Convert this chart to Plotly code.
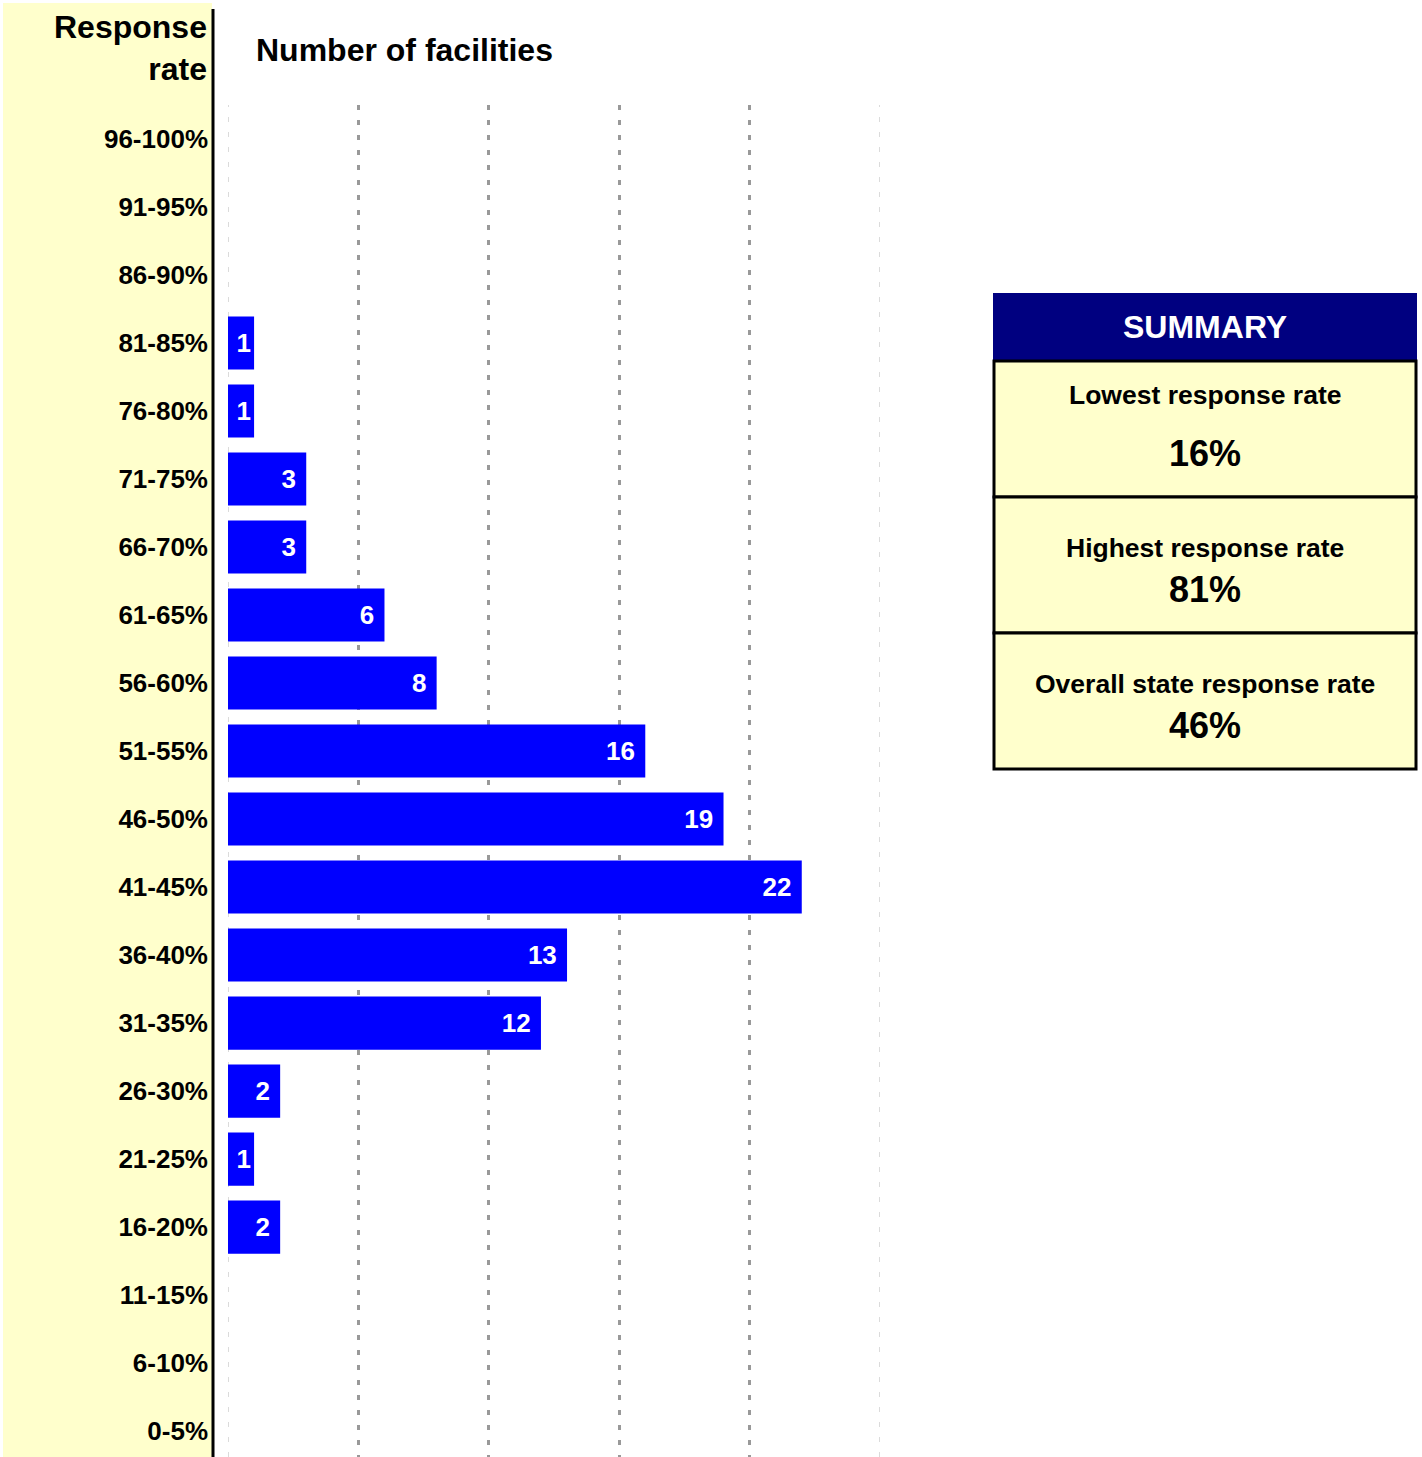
import plotly.graph_objects as go

# ---- data ----
categories = ["0-5%", "6-10%", "11-15%", "16-20%", "21-25%", "26-30%", "31-35%",
              "36-40%", "41-45%", "46-50%", "51-55%", "56-60%", "61-65%", "66-70%",
              "71-75%", "76-80%", "81-85%", "86-90%", "91-95%", "96-100%"]
facilities = [0, 0, 0, 2, 1, 2, 12, 13, 22, 19, 16, 8, 6, 3, 3, 1, 1, 0, 0, 0]
x_ticks = [5, 10, 15, 20]
x_edge_ticks = [0, 25]
summary_labels = ["Lowest response rate", "Highest response rate", "Overall state response rate"]
summary_values = ["16%", "81%", "46%"]

FONT = "Liberation Sans, Arial, sans-serif"
W, H = 1422, 1457
L, R, T, B = 228, 880, 105, 1457


def px(x):
    return (x - L) / (R - L)


def py(y):
    return (B - y) / (B - T)


def bar_label(v):
    if not v:
        return ""
    # a trailing no-break space gives the wider inner padding of the original
    return str(v) + ("\u00a0" if v >= 2 else "")


fig = go.Figure()
fig.add_trace(go.Bar(
    y=categories, x=facilities, orientation="h",
    marker=dict(color="#0000FF", line=dict(width=0)),
    text=[bar_label(v) for v in facilities],
    textposition="inside", insidetextanchor="end",
    textfont=dict(family=FONT, size=26, color="white", weight="bold"),
    hoverinfo="skip",
))

fig.update_layout(
    width=W, height=H,
    margin=dict(l=L, r=W - R, t=T, b=H - B, pad=0),
    paper_bgcolor="white", plot_bgcolor="white",
    showlegend=False, bargap=0.22,
    uniformtext=dict(minsize=26, mode="show"),
    font=dict(family=FONT, color="black"),
)
fig.update_xaxes(
    range=[0, 25], tickvals=x_ticks, showticklabels=False, ticks="",
    showgrid=True, gridcolor="#999999", griddash="5px,10px", gridwidth=3,
    zeroline=False, showline=False,
)
fig.update_yaxes(
    type="category", categoryorder="array", categoryarray=categories,
    range=[-0.38, 19.5], showgrid=False, zeroline=False, showline=False,
    ticks="", ticklabelstandoff=19,
    tickfont=dict(family=FONT, size=26, color="black", weight="bold"),
)

# light edge gridlines at 0 and 25
for v in x_edge_ticks:
    fig.add_shape(type="line", xref="x", yref="paper", layer="below",
                  x0=v, x1=v, y0=0, y1=1,
                  line=dict(color="#cfcfcf", width=1.5, dash="5px,10px"))

# left yellow band and black divider
fig.add_shape(type="rect", xref="paper", yref="paper", layer="below",
              x0=px(3), x1=px(212), y0=py(H), y1=py(3),
              fillcolor="#FFFFCC", line=dict(width=0))
fig.add_shape(type="line", xref="paper", yref="paper",
              x0=px(213), x1=px(213), y0=py(H), y1=py(9),
              line=dict(color="black", width=3))

# header texts
fig.add_annotation(xref="paper", yref="paper", x=px(209), y=py(48),
                   xanchor="right", yanchor="middle", align="right", showarrow=False,
                   text="Response<br>rate",
                   font=dict(family=FONT, size=32, color="black", weight="bold"))
fig.add_annotation(xref="paper", yref="paper", x=px(254), y=py(50),
                   xanchor="left", yanchor="middle", showarrow=False,
                   text="Number of facilities",
                   font=dict(family=FONT, size=32, color="black", weight="bold"))

# summary box
bx0, bx1 = 993, 1417
fig.add_shape(type="rect", xref="paper", yref="paper",
              x0=px(bx0), x1=px(bx1), y0=py(361), y1=py(293),
              fillcolor="#000080", line=dict(width=0))
fig.add_annotation(xref="paper", yref="paper", x=px((bx0 + bx1) / 2), y=py(327),
                   xanchor="center", yanchor="middle", showarrow=False,
                   text="SUMMARY",
                   font=dict(family=FONT, size=32, color="white", weight="bold"))
rows = [(361, 497, 395, 453), (497, 633, 548, 589), (633, 769, 684, 725)]
for (r0, r1, ly, vy), lab, val in zip(rows, summary_labels, summary_values):
    fig.add_shape(type="rect", xref="paper", yref="paper",
                  x0=px(bx0 + 1), x1=px(bx1 - 1), y0=py(r1), y1=py(r0),
                  fillcolor="#FFFFCC", line=dict(color="black", width=3))
    fig.add_annotation(xref="paper", yref="paper", x=px((bx0 + bx1) / 2), y=py(ly),
                       xanchor="center", yanchor="middle", showarrow=False,
                       text=lab,
                       font=dict(family=FONT, size=26.5, color="black", weight="bold"))
    fig.add_annotation(xref="paper", yref="paper", x=px((bx0 + bx1) / 2), y=py(vy),
                       xanchor="center", yanchor="middle", showarrow=False,
                       text=val,
                       font=dict(family=FONT, size=36, color="black", weight="bold"))

fig.write_html("out.html", config={"displayModeBar": False},
               post_script="document.body.style.margin='0';")
